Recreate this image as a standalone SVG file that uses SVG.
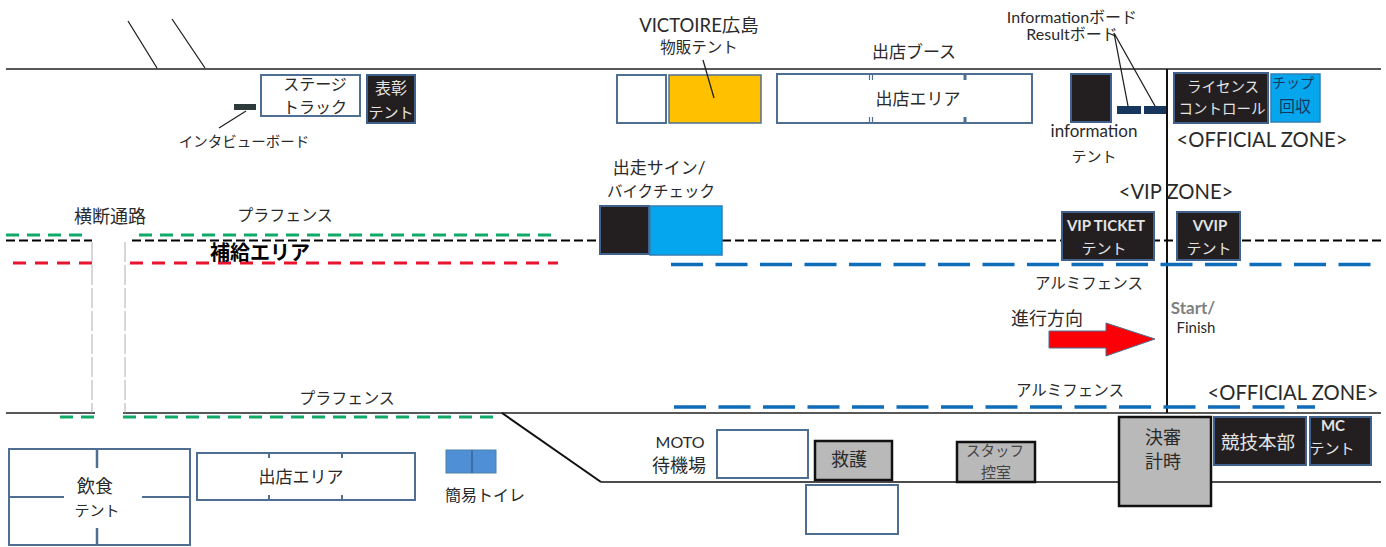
<svg xmlns="http://www.w3.org/2000/svg" width="1386" height="547" viewBox="0 0 1386 547">
<style>
text{font-family:Lato,"Noto Sans CJK JP",sans-serif;font-size:16px;fill:#2a2a2a;text-anchor:middle;font-weight:400}
text.w{fill:#e4e4e4}
text.b{font-weight:700}
.box{fill:#fff;stroke:#4f6f92;stroke-width:2}
.dark{fill:#231f20;stroke:#3f618c;stroke-width:2}
.blue{fill:#05a6ee;stroke:#2f7fb5;stroke-width:1.5}
.gray{fill:#b9b9b9;stroke:#111;stroke-width:2.5}
.ln{stroke:#222;stroke-width:1.3;fill:none}
.tick{stroke:#4f6f92;stroke-width:2;fill:none}
.green{stroke:#0fa968;stroke-width:3;stroke-dasharray:13 8;fill:none}
.red{stroke:#e8132c;stroke-width:3;stroke-dasharray:13 9;fill:none}
.bf{stroke:#0f6cb8;stroke-width:3.5;stroke-dasharray:32 12.5;fill:none}
.bk{stroke:#000;stroke-width:2;stroke-dasharray:9 4;fill:none}
.cr{stroke:#999;stroke-width:.8;stroke-dasharray:20 3;fill:none}
</style>
<rect width="1386" height="547" fill="#fff"/>
<g id="victoire"><text x="699" y="32" style="font-size:18.500px">VICTOIRE広島</text><text x="699" y="53" style="font-size:15.500px">物販テント</text><rect class="box" x="617" y="75" width="49" height="48"/><rect x="669" y="75" width="92" height="48" fill="#ffc000" stroke="#4f6f92" stroke-width="1.500"/></g>
<g id="info-boards"><text x="1072" y="23" style="font-size:16px">Informationボード</text><text x="1072" y="40" style="font-size:16px">Resultボード</text><rect x="1117" y="106" width="24" height="8" fill="#17365d"/><rect x="1144" y="106" width="22" height="8" fill="#17365d"/></g>
<g id="interview"><rect x="234" y="104" width="22" height="6" fill="#2c3a3a"/><text x="244" y="147" style="font-size:14.500px">インタビューボード</text></g>
<g id="connectors">
<path class="ln" d="M6 69H1381M128 21L157 68M172 19L205 68M6 413H95M123 413H1381"/>
<path d="M502 413L601 482" stroke="#111" stroke-width="2" fill="none"/>
<path d="M601 482H1381" stroke="#111" stroke-width="1.500" fill="none"/>
<path d="M1167 69V413" stroke="#111" stroke-width="2" fill="none"/>
<path class="ln" d="M219 128L246 111M703 60L714 98M1114 33L1128 106M1114 33L1155 106"/>
<path class="green" d="M6 235H90M139 235H555M60 417H95M123 417H500"/>
<path class="bk" d="M6 240.500H92M132 240.500H600M722 240.500H1381"/>
<path class="red" d="M13 263H92M130 263H558"/>
<path class="cr" d="M92 242V413M125 242V413"/>
<path class="bf" d="M671 264.500H1372M674 407H1315"/>
</g>
<g id="stage"><rect class="box" x="261" y="75" width="99" height="41"/><text x="315" y="90">ステージ</text><text x="315" y="113">トラック</text></g>
<g id="award"><rect class="dark" x="367" y="75" width="48" height="48"/><text class="w" x="391" y="94">表彰</text><text class="w" x="391" y="118" style="font-size:15px">テント</text></g>
<g id="cross-label"><text x="110" y="223" style="font-size:18px">横断通路</text></g>
<g id="plafence1"><text x="285" y="221">プラフェンス</text></g>
<g id="supply"><text x="260" y="260" class="b" style="font-size:20px;fill:#000">補給エリア</text></g>
<g id="booth"><text x="914" y="58" style="font-size:17px">出店ブース</text><rect class="box" x="777" y="74" width="255" height="49"/><path class="tick" style="stroke-width:1.200" d="M869.500 74V80M872.500 74V80M869.500 117V123M872.500 117V123"/><path class="tick" style="stroke-width:3" d="M965 75V80M965 117V122"/><text x="918" y="105" style="font-size:17px">出店エリア</text></g>
<g id="sign"><text x="659" y="174" style="font-size:17px">出走サイン/</text><text x="661" y="197" style="font-size:15.500px">バイクチェック</text><rect class="dark" x="600" y="206" width="49" height="48"/><rect class="blue" x="650" y="206" width="72" height="49"/></g>
<g id="info-tent"><rect class="dark" x="1071" y="74" width="40" height="48"/><text x="1094" y="137" style="font-size:17px">information</text><text x="1094" y="162" style="font-size:15px">テント</text></g>
<g id="license"><rect class="dark" x="1174" y="73" width="94" height="50"/><text class="w" x="1223" y="92" style="font-size:14.500px">ライセンス</text><text class="w" x="1222" y="114" style="font-size:14.500px">コントロール</text></g>
<g id="chip"><rect class="blue" x="1271" y="74" width="49" height="48"/><text x="1293" y="88" style="fill:#17365d;font-size:14px">チップ</text><text x="1295" y="112" style="fill:#17365d">回収</text></g>
<g id="zones"><text x="1262" y="147" style="font-size:20.200px">&lt;OFFICIAL ZONE&gt;</text><text x="1176" y="199" style="font-size:20.200px">&lt;VIP ZONE&gt;</text><text x="1293" y="400" style="font-size:20.200px">&lt;OFFICIAL ZONE&gt;</text></g>
<g id="vip"><rect class="dark" x="1062" y="212" width="92" height="48"/><text class="w b" x="1106" y="231" style="font-size:15px">VIP TICKET</text><text class="w" x="1104" y="254" style="font-size:15px">テント</text></g>
<g id="vvip"><rect class="dark" x="1177" y="212" width="63" height="48"/><text class="w b" x="1210" y="231" style="font-size:15px">VVIP</text><text class="w" x="1209" y="254" style="font-size:15px">テント</text></g>
<g id="alumi1"><text x="1089" y="289" style="font-size:15.500px">アルミフェンス</text></g>
<g id="direction"><text x="1047" y="325" style="font-size:18px">進行方向</text><polygon points="1049,331 1106,331 1106,323 1155,339 1106,356 1106,348 1049,348" fill="#fb0007" stroke="#4f6f92" stroke-width="1"/></g>
<g id="startfinish"><text x="1193" y="314" class="b" style="font-size:17px;fill:#808080">Start/</text><text x="1196" y="333" style="font-size:15px">Finish</text></g>
<g id="alumi2"><text x="1070" y="396" style="font-size:15.500px">アルミフェンス</text></g>
<g id="plafence2"><text x="347" y="404">プラフェンス</text></g>
<g id="judge"><rect class="gray" x="1119" y="417" width="92" height="89"/><text x="1163" y="444" style="font-size:18px">決審</text><text x="1163" y="468" style="font-size:18px">計時</text></g>
<g id="hq"><rect class="dark" x="1214" y="417" width="92" height="48"/><text class="w" x="1258" y="449" style="font-size:18.500px">競技本部</text></g>
<g id="mc"><rect class="dark" x="1310" y="417" width="61" height="48"/><text class="w b" x="1333" y="431" style="font-size:15px">MC</text><text class="w" x="1332" y="454" style="font-size:15px">テント</text></g>
<g id="food"><rect class="box" x="9" y="449" width="181" height="96"/><path class="tick" style="stroke-width:2.500" d="M97 449V468M97 528V545"/><path class="tick" d="M9 497H64M142 497H190"/><text x="95" y="493" style="font-size:18px">飲食</text><text x="97" y="516" style="font-size:15px">テント</text></g>
<g id="shop"><rect class="box" x="197" y="453" width="218" height="47"/><path class="tick" d="M269 453V458M269 495V500M342 453V458M342 495V500"/><text x="301" y="483" style="font-size:17px">出店エリア</text></g>
<g id="toilet"><rect x="446" y="450" width="50" height="23" fill="#4f8fd6" stroke="#4f81a8"/><path d="M472 450V473" stroke="#3a6ea5" stroke-width="2"/><text x="485" y="501">簡易トイレ</text></g>
<g id="moto"><text x="680" y="448">MOTO</text><text x="679" y="472" style="font-size:18px">待機場</text><rect class="box" x="717" y="430" width="91" height="48"/></g>
<g id="rescue"><rect class="gray" x="815" y="441" width="77" height="39"/><text x="849" y="466" style="font-size:18px">救護</text></g>
<g id="blank"><rect class="box" x="806" y="485" width="92" height="49"/></g>
<g id="staff"><rect class="gray" x="957" y="442" width="78" height="40"/><text x="995" y="456" style="font-size:14.500px;fill:#444">スタッフ</text><text x="996" y="478" style="font-size:15px;fill:#444">控室</text></g>
</svg>
